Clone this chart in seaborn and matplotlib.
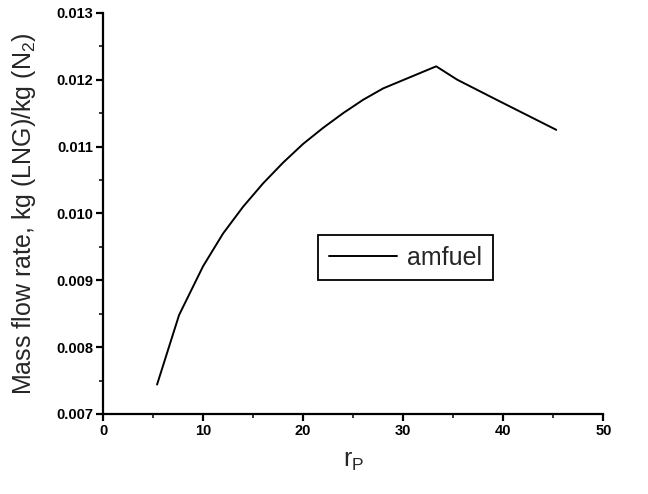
import matplotlib
matplotlib.use("Agg")
import matplotlib.pyplot as plt
from matplotlib.ticker import MultipleLocator, FormatStrFormatter
import seaborn as sns
import pandas as pd

# Pressure ratio and LNG-to-nitrogen mass flow rate
pressure_ratio = [5.4, 7.6, 10.0, 12.0, 14.0, 16.0, 18.0, 20.0, 22.0, 24.0,
                  26.0, 28.0, 33.3, 35.4, 39.2, 45.3]
mass_flow = [0.00744, 0.00848, 0.00921, 0.00970, 0.01010, 0.01045, 0.01076,
             0.01104, 0.01128, 0.01150, 0.01170, 0.01187, 0.01220, 0.01200,
             0.01171, 0.01125]
series_name = "amfuel"

df = pd.DataFrame({"rp": pressure_ratio, "flow": mass_flow, "series": series_name})

sns.set_style("ticks")
plt.rcParams["font.family"] = ["Liberation Sans", "DejaVu Sans"]

fig = plt.figure(figsize=(6.48, 4.94), dpi=100)
ax = fig.add_axes([0.159, 0.162, 0.772, 0.812])

sns.lineplot(data=df, x="rp", y="flow", hue="series", palette=["black"],
             linewidth=1.4, ax=ax, sort=False)

ax.set_xlim(0, 50)
ax.set_ylim(0.007, 0.013)
ax.xaxis.set_major_locator(MultipleLocator(10))
ax.xaxis.set_minor_locator(MultipleLocator(5))
ax.yaxis.set_major_locator(MultipleLocator(0.001))
ax.yaxis.set_minor_locator(MultipleLocator(0.0005))
ax.yaxis.set_major_formatter(FormatStrFormatter("%.3f"))

for side in ("top", "right"):
    ax.spines[side].set_visible(False)
for side in ("left", "bottom"):
    ax.spines[side].set_linewidth(1.6)
    ax.spines[side].set_color("black")

ax.tick_params(which="major", direction="out", length=5, width=1.6,
               labelsize=10.5, colors="black", pad=2)
ax.tick_params(which="minor", direction="out", length=3, width=1.3)
for lbl in ax.get_xticklabels() + ax.get_yticklabels():
    lbl.set_fontweight("bold")

ax.set_xlabel(r"r$_\mathregular{P}$", fontsize=18, labelpad=8)
ax.set_ylabel(r"Mass flow rate, kg (LNG)/kg (N$_\mathregular{2}$)", fontsize=18, labelpad=13)

leg = ax.legend(loc="upper left", bbox_to_anchor=(0.43, 0.446), fontsize=18,
                frameon=True, fancybox=False, handlelength=2.75, borderpad=0.42,
                handletextpad=0.4, borderaxespad=0)
leg.get_frame().set_edgecolor("black")
leg.get_frame().set_linewidth(1.3)
leg.get_frame().set_alpha(1)
leg.set_title(None)

fig.savefig("out.png", dpi=100)
